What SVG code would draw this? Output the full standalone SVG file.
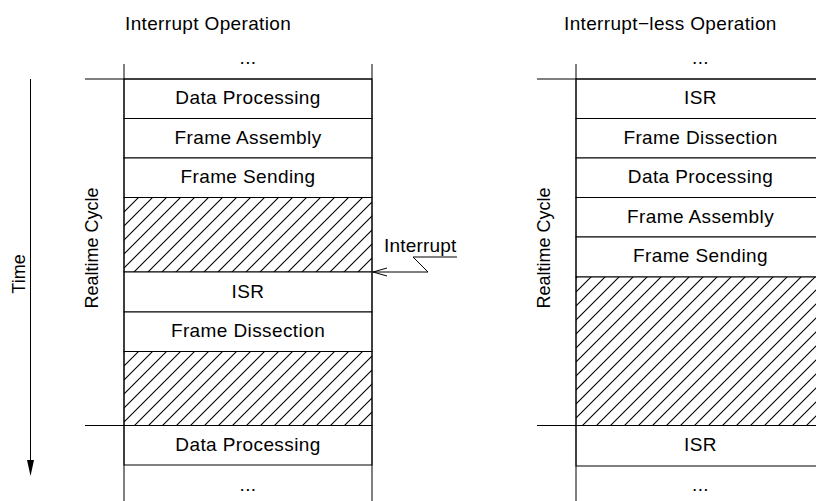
<svg xmlns="http://www.w3.org/2000/svg" width="816" height="501" viewBox="0 0 816 501">
<style>
  .t{font-family:"Liberation Sans",Arial,sans-serif;font-size:19px;fill:#000}
  .lbl{text-anchor:middle;letter-spacing:0.4px}
  .row{fill:#fff;stroke:#000;stroke-width:1}
  .hatch{fill:url(#hp);stroke:#000;stroke-width:1}
  .ln{stroke:#000;stroke-width:1;fill:none}
</style>
<defs>
  <pattern id="hp" patternUnits="userSpaceOnUse" width="14" height="14">
    <rect width="14" height="14" fill="#fff"/>
    <path d="M-1,15 L15,-1 M-8,8 L8,-8 M6,22 L22,6" stroke="#000" stroke-width="1.1"/>
  </pattern>
  <marker id="filled" markerWidth="16" markerHeight="8" refX="0" refY="4" orient="auto" markerUnits="userSpaceOnUse" viewBox="0 0 16 8">
    <path d="M0,0.5 L16,4 L0,7.5 Z" fill="#000"/>
  </marker>
  <marker id="open" markerWidth="16" markerHeight="10" refX="15" refY="5" orient="auto" markerUnits="userSpaceOnUse" viewBox="0 0 16 10">
    <path d="M1,1 L15,5 L1,9" fill="none" stroke="#000" stroke-width="1"/>
  </marker>
</defs>
<rect width="816" height="501" fill="#fff"/>

<text class="t" x="125" y="30" style="letter-spacing:0.35px">Interrupt Operation</text>
<text class="t" x="564" y="30" style="letter-spacing:0.35px">Interrupt−less Operation</text>

<text class="t" transform="translate(25,274) rotate(-90)" text-anchor="middle" style="font-size:18px">Time</text>
<text class="t" transform="translate(98,248) rotate(-90)" text-anchor="middle" style="font-size:18px">Realtime Cycle</text>
<text class="t" transform="translate(550,248) rotate(-90)" text-anchor="middle" style="font-size:18px">Realtime Cycle</text>

<!-- left column -->
<g id="L-dots-top"><text class="t lbl" x="248" y="63.5">...</text></g>
<g id="L-data1"><rect class="row" x="124" y="79" width="248" height="39.5"/><text class="t lbl" x="248" y="104">Data Processing</text></g>
<g id="L-assembly"><rect class="row" x="124" y="118.5" width="248" height="39.5"/><text class="t lbl" x="248" y="143.5">Frame Assembly</text></g>
<g id="L-sending"><rect class="row" x="124" y="158" width="248" height="39.5"/><text class="t lbl" x="248" y="183">Frame Sending</text></g>
<g id="L-idle1"><rect class="hatch" x="124" y="197.5" width="248" height="74.5"/></g>
<g id="L-isr"><rect class="row" x="124" y="272" width="248" height="40"/><text class="t lbl" x="248" y="297.5">ISR</text></g>
<g id="L-dissection"><rect class="row" x="124" y="312" width="248" height="39.5"/><text class="t lbl" x="248" y="337">Frame Dissection</text></g>
<g id="L-idle2"><rect class="hatch" x="124" y="351.5" width="248" height="74"/></g>
<g id="L-data2"><rect class="row" x="124" y="425.5" width="248" height="39.5"/><text class="t lbl" x="248" y="450.5">Data Processing</text></g>
<g id="L-dots-bot"><text class="t lbl" x="248" y="490.5">...</text></g>

<!-- right column -->
<g id="R-dots-top"><text class="t lbl" x="700.5" y="63.5">...</text></g>
<g id="R-isr1"><rect class="row" x="576" y="79" width="249" height="39.5"/><text class="t lbl" x="700.5" y="104">ISR</text></g>
<g id="R-dissection"><rect class="row" x="576" y="118.5" width="249" height="39.5"/><text class="t lbl" x="700.5" y="143.5">Frame Dissection</text></g>
<g id="R-data"><rect class="row" x="576" y="158" width="249" height="39.5"/><text class="t lbl" x="700.5" y="183">Data Processing</text></g>
<g id="R-assembly"><rect class="row" x="576" y="197.5" width="249" height="39.5"/><text class="t lbl" x="700.5" y="222.5">Frame Assembly</text></g>
<g id="R-sending"><rect class="row" x="576" y="237" width="249" height="40"/><text class="t lbl" x="700.5" y="262">Frame Sending</text></g>
<g id="R-idle"><rect class="hatch" x="576" y="277" width="249" height="148.5"/></g>
<g id="R-isr2"><rect class="row" x="576" y="425.5" width="249" height="40.5"/><text class="t lbl" x="700.5" y="451">ISR</text></g>
<g id="R-dots-bot"><text class="t lbl" x="700.5" y="490.5">...</text></g>

<!-- frame lines -->
<g id="frame">
  <path class="ln" d="M124,64 V501 M372,64 V501 M576,64 V501"/>
  <path class="ln" d="M85,79 H372 M85,425.5 H372 M537,79 H825 M537,425.5 H825"/>
</g>

<g id="connectors">
  <path class="ln" d="M30.5,79 V460" marker-end="url(#filled)"/>
  <polyline class="ln" points="457,257 413,257 428,272 373,272" marker-end="url(#open)"/>
  <text class="t" x="384" y="252" style="letter-spacing:0.2px">Interrupt</text>
</g>
</svg>
